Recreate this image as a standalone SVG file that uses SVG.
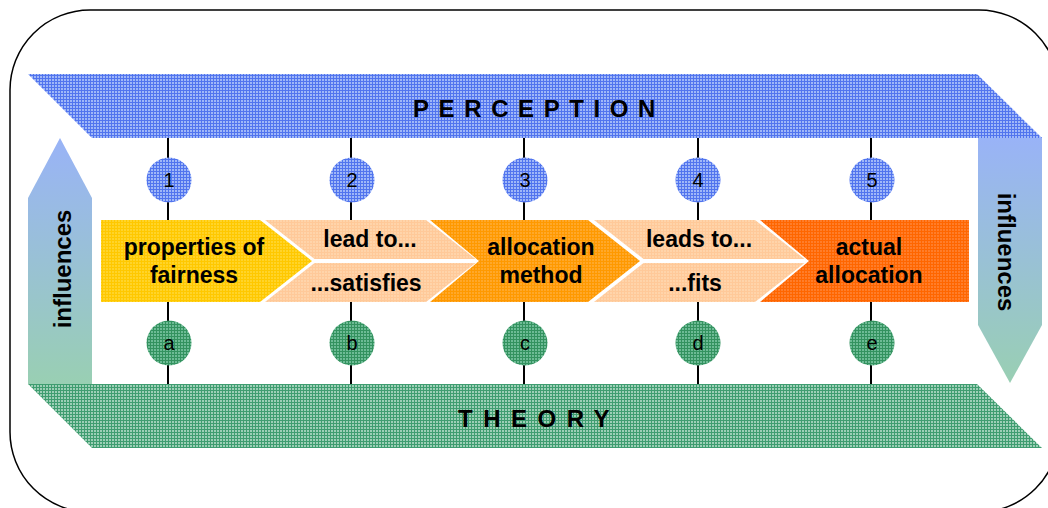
<svg xmlns="http://www.w3.org/2000/svg" width="1048" height="508" viewBox="0 0 1048 508">
  <defs>
    <style>
      .band-label { font-family: "Liberation Sans", Arial, sans-serif; font-weight: bold; font-size: 24px; letter-spacing: 9.6px; fill: #000; }
      .step { font-family: "Liberation Sans", Arial, sans-serif; font-weight: bold; font-size: 23px; fill: #000; text-anchor: middle; }
      .side { font-family: "Liberation Sans", Arial, sans-serif; font-weight: bold; font-size: 24px; fill: #000; text-anchor: middle; }
      .num { font-family: "Liberation Sans", Arial, sans-serif; font-size: 20px; fill: #000; text-anchor: middle; }
      .link { stroke: #000; stroke-width: 2; fill: none; }
    </style>
    <!-- fine grid textures -->
    <pattern id="gridBlue" width="3" height="3" patternUnits="userSpaceOnUse">
      <rect width="3" height="3" fill="#9fb7f8"/>
      <path d="M0 0.5H3M0.5 0V3" stroke="#5174ee" stroke-width="1"/>
    </pattern>
    <pattern id="gridGreen" width="3" height="3" patternUnits="userSpaceOnUse">
      <rect width="3" height="3" fill="#9ccfb6"/>
      <path d="M0 0.5H3M0.5 0V3" stroke="#3f9d70" stroke-width="1"/>
    </pattern>
    <pattern id="gridGreenDark" width="3" height="3" patternUnits="userSpaceOnUse">
      <rect width="3" height="3" fill="#6dbb95"/>
      <path d="M0 0.5H3M0.5 0V3" stroke="#33925f" stroke-width="1"/>
    </pattern>
    <pattern id="gridYellow" width="3" height="3" patternUnits="userSpaceOnUse">
      <rect width="3" height="3" fill="#ffd42a"/>
      <path d="M0 0.5H3M0.5 0V3" stroke="#ffc800" stroke-width="1"/>
    </pattern>
    <pattern id="gridPeach" width="3" height="3" patternUnits="userSpaceOnUse">
      <rect width="3" height="3" fill="#ffd4aa"/>
      <path d="M0 0.5H3M0.5 0V3" stroke="#ffc999" stroke-width="1"/>
    </pattern>
    <pattern id="gridOrange" width="3" height="3" patternUnits="userSpaceOnUse">
      <rect width="3" height="3" fill="#ffa82a"/>
      <path d="M0 0.5H3M0.5 0V3" stroke="#ff9900" stroke-width="1"/>
    </pattern>
    <pattern id="gridRed" width="3" height="3" patternUnits="userSpaceOnUse">
      <rect width="3" height="3" fill="#ff7d2a"/>
      <path d="M0 0.5H3M0.5 0V3" stroke="#ff6600" stroke-width="1"/>
    </pattern>
    <linearGradient id="fadeUp" x1="0" y1="138" x2="0" y2="383" gradientUnits="userSpaceOnUse">
      <stop offset="0" stop-color="#99b3f7"/>
      <stop offset="1" stop-color="#99cfb3"/>
    </linearGradient>
  </defs>

  <rect width="1048" height="508" fill="#fff"/>

  <!-- outer frame -->
  <rect x="10" y="10" width="1049" height="502" rx="80" ry="80" fill="none" stroke="#000" stroke-width="1.5"/>

  <!-- side arrows -->
  <g id="influences-up">
    <polygon points="28,384 28,198 60,138 92,198 92,384" fill="url(#fadeUp)"/>
    <text class="side" transform="translate(71,269) rotate(-90)">influences</text>
  </g>
  <g id="influences-down">
    <polygon points="978,137 1042,137 1042,325 1010,383 978,325" fill="url(#fadeUp)"/>
    <text class="side" transform="translate(998,252) rotate(90)">influences</text>
  </g>

  <!-- connectors -->
  <g id="connectors">
    <path class="link" d="M168 138V220M351 138V220M524 138V220M698 138V220M871 138V220"/>
    <path class="link" d="M168 302V384M351 302V384M524 302V384M698 302V384M871 302V384"/>
  </g>

  <!-- bands -->
  <g id="perception">
    <polygon points="28,74 977,74 1042,138 92,138" fill="url(#gridBlue)"/>
    <text class="band-label" x="413" y="117">PERCEPTION</text>
  </g>
  <g id="theory">
    <polygon points="28,384 977,384 1042,448 92,448" fill="url(#gridGreen)"/>
    <text class="band-label" x="458" y="427" style="letter-spacing:10.5px">THEORY</text>
  </g>

  <!-- numbered markers -->
  <g id="n1"><circle cx="169" cy="180" r="22.5" fill="url(#gridBlue)"/><text class="num" x="169" y="187">1</text></g>
  <g id="n2"><circle cx="352" cy="180" r="22.5" fill="url(#gridBlue)"/><text class="num" x="352" y="187">2</text></g>
  <g id="n3"><circle cx="525" cy="180" r="22.5" fill="url(#gridBlue)"/><text class="num" x="525" y="187">3</text></g>
  <g id="n4"><circle cx="698" cy="180" r="22.5" fill="url(#gridBlue)"/><text class="num" x="698" y="187">4</text></g>
  <g id="n5"><circle cx="872" cy="180" r="22.5" fill="url(#gridBlue)"/><text class="num" x="872" y="187">5</text></g>

  <g id="la"><circle cx="169" cy="343" r="22.5" fill="url(#gridGreenDark)"/><text class="num" x="169" y="350">a</text></g>
  <g id="lb"><circle cx="352" cy="343" r="22.5" fill="url(#gridGreenDark)"/><text class="num" x="352" y="350">b</text></g>
  <g id="lc"><circle cx="525" cy="343" r="22.5" fill="url(#gridGreenDark)"/><text class="num" x="525" y="350">c</text></g>
  <g id="ld"><circle cx="698" cy="343" r="22.5" fill="url(#gridGreenDark)"/><text class="num" x="698" y="350">d</text></g>
  <g id="le"><circle cx="872" cy="343" r="22.5" fill="url(#gridGreenDark)"/><text class="num" x="872" y="350">e</text></g>

  <!-- process chevrons -->
  <g id="properties">
    <polygon points="101,220 260,220 312,261 260,302 101,302" fill="url(#gridYellow)"/>
    <text class="step" x="194" y="255">properties of</text>
    <text class="step" x="194" y="283">fairness</text>
  </g>
  <g id="lead-to">
    <polygon points="265,220 426,220 475.5,259 314.5,259" fill="url(#gridPeach)"/>
    <polygon points="314.5,263 475.5,263 426,302 265,302" fill="url(#gridPeach)"/>
    <text class="step" x="370" y="247">lead to...</text>
    <text class="step" x="366" y="291">...satisfies</text>
  </g>
  <g id="method">
    <polygon points="430,220 588,220 640,261 588,302 430,302 479,261" fill="url(#gridOrange)"/>
    <text class="step" x="541" y="255">allocation</text>
    <text class="step" x="541" y="283">method</text>
  </g>
  <g id="leads-to">
    <polygon points="594,220 755,220 804.5,259 643.5,259" fill="url(#gridPeach)"/>
    <polygon points="643.5,263 804.5,263 755,302 594,302" fill="url(#gridPeach)"/>
    <text class="step" x="699" y="247">leads to...</text>
    <text class="step" x="695" y="291">...fits</text>
  </g>
  <g id="actual">
    <polygon points="760,220 969,220 969,302 760,302 809,261" fill="url(#gridRed)"/>
    <text class="step" x="869" y="255">actual</text>
    <text class="step" x="869" y="283">allocation</text>
  </g>
</svg>
